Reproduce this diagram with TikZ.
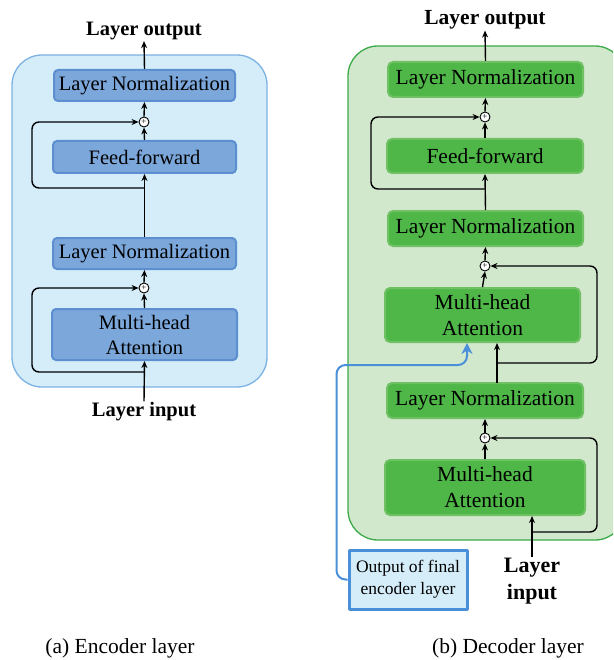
\documentclass[tikz,border=0pt]{standalone}
\usepackage{fontspec}
\setmainfont{Liberation Serif}
\usetikzlibrary{arrows.meta}

\definecolor{encbg}{RGB}{212,237,249}
\definecolor{encline}{RGB}{125,178,227}
\definecolor{encfill}{RGB}{123,167,219}
\definecolor{encdraw}{RGB}{92,142,208}
\definecolor{decbg}{RGB}{210,232,205}
\definecolor{decline}{RGB}{59,170,72}
\definecolor{decfill}{RGB}{78,183,72}
\definecolor{decdraw}{RGB}{112,192,100}
\definecolor{skipblue}{RGB}{74,144,217}

\tikzset{
  encbox/.style={draw=encdraw, line width=2pt, fill=encfill, rounded corners=4pt,
    inner sep=0pt, align=center, font=\fontsize{20.5}{25}\selectfont},
  decbox/.style={draw=decdraw, line width=2pt, fill=decfill, rounded corners=5pt,
    inner sep=0pt, align=center, font=\fontsize{21.5}{26}\selectfont},
  addnode/.style={draw, circle, fill=white, line width=0.9pt, inner sep=0pt,
    minimum size=10pt, font=\fontsize{9}{9}\selectfont},
  title/.style={font=\bfseries\fontsize{20.5}{27}\selectfont, align=center, inner sep=1pt},
  caption/.style={font=\fontsize{21.5}{26}\selectfont, inner sep=0pt},
  flow/.style={->, line width=1.4pt},
  encarrow/.style={-{Stealth[length=11pt,width=11pt]}, line width=2pt, draw=skipblue}
}

\begin{document}
\begin{tikzpicture}[x=1pt, y=-1pt, >={Stealth[length=7pt,width=6pt]}, line join=round]
    \useasboundingbox (0,0) rectangle (613,660);
    \clip (0,0) rectangle (613,660);

    % encoder layer
    \draw[draw=encline, line width=1.3pt, fill=encbg, rounded corners=30pt] (12,55) rectangle (267,387);

    \node[title] (eOut) at (144,31) {Layer output};
    \node[encbox, minimum width=181pt, minimum height=31pt] (eLN2) at (144.5,85.5) {Layer Normalization};
    \node[addnode] (ePlus2) at (144,122) {+};
    \node[encbox, minimum width=183pt, minimum height=32pt] (eFF) at (144.5,157) {Feed-forward};
    \node[encbox, minimum width=183pt, minimum height=31pt] (eLN1) at (144.5,253.5) {Layer Normalization};
    \node[addnode] (ePlus1) at (144,288) {+};
    \node[encbox, minimum width=185pt, minimum height=51pt] (eMHA) at (144.5,334.5) {Multi-head\\Attention};
    \node[title] (eIn) at (144,412) {Layer input};

    \coordinate (eSplit2) at (144,188);
    \coordinate (eSplit1) at (144,372);

    \draw[flow] (eLN2.north) -- (eOut.south);
    \draw[flow] (ePlus2.north) -- (eLN2.south);
    \draw[flow] (eFF.north) -- (ePlus2.south);
    \draw[flow] (eLN1.north) -- (eFF.south);
    \draw[flow, rounded corners=7pt] (eSplit2) -- ++(-112,0) |- (ePlus2.west);
    \draw[flow] (ePlus1.north) -- (eLN1.south);
    \draw[flow] (eMHA.north) -- (ePlus1.south);
    \draw[flow] (eIn.north) -- (eMHA.south);
    \draw[flow, rounded corners=7pt] (eSplit1) -- ++(-112,0) |- (ePlus1.west);

    % decoder layer
    \draw[draw=decline, line width=1.3pt, fill=decbg, rounded corners=30pt] (348,46) rectangle (625,540);

    \node[title, font=\bfseries\fontsize{21.5}{27}\selectfont] (dOut) at (485,20) {Layer output};
    \node[decbox, minimum width=195pt, minimum height=35pt] (dLN3) at (485.5,79.5) {Layer Normalization};
    \node[addnode] (dPlus3) at (485,117) {+};
    \node[decbox, minimum width=196pt, minimum height=34pt] (dFF) at (485,156) {Feed-forward};
    \node[decbox, minimum width=195pt, minimum height=35pt] (dLN2) at (485.5,228.5) {Layer Normalization};
    \node[addnode] (dPlus2) at (485,266) {+};
    \node[decbox, minimum width=195pt, minimum height=54pt] (dMHA2) at (482.5,315) {Multi-head\\Attention};
    \node[decbox, minimum width=196pt, minimum height=35pt] (dLN1) at (485,400.5) {Layer Normalization};
    \node[addnode] (dPlus1) at (485,438) {+};
    \node[decbox, minimum width=200pt, minimum height=55pt] (dMHA1) at (485,487.5) {Multi-head\\Attention};
    \node[title, font=\bfseries\fontsize{22}{27}\selectfont] (dIn) at (532,581) {Layer\\input};
    \node[draw=skipblue, line width=3pt, fill=encbg, minimum width=118pt, minimum height=59pt,
      align=center, inner sep=0pt, font=\fontsize{17.5}{22}\selectfont] (encOut) at (408,579.5) {Output of final\\encoder layer};

    \coordinate (dSplit3) at (485,189);
    \coordinate (dUp) at (497,383);
    \coordinate (dSplit2) at (497,363);
    \coordinate (dSplit1) at (532,532);
    \coordinate (dEnc) at (467,365);

    \draw[flow] (dLN3.north) -- (dOut.south);
    \draw[flow] (dPlus3.north) -- (dLN3.south);
    \draw[flow] (dFF.north) -- (dPlus3.south);
    \draw[flow] (dLN2.north) -- (dFF.south);
    \draw[flow, rounded corners=7pt] (dSplit3) -- ++(-114,0) |- (dPlus3.west);
    \draw[flow] (dPlus2.north) -- (dLN2.south);
    \draw[flow] (dMHA2.north) -- (dPlus2.south);
    \draw[flow] (dUp) -- (dUp |- dMHA2.south);
    \draw[flow, rounded corners=7pt] (dSplit2) -- ++(100,0) |- (dPlus2.east);
    \draw[flow] (dPlus1.north) -- (dLN1.south);
    \draw[flow] (dMHA1.north) -- (dPlus1.south);
    \draw[flow] (dIn.north) -- (dIn.north |- dMHA1.south);
    \draw[flow, rounded corners=7pt] (dSplit1) -- ++(65,0) |- (dPlus1.east);
    \draw[encarrow, rounded corners=9pt] (encOut.west) -- ++(-11,0) |- (dEnc) -- (dEnc |- dMHA2.south);

    % captions
    \node[caption] (capA) at (120,648) {(a) Encoder layer};
    \node[caption] (capB) at (508,648) {(b) Decoder layer};
\end{tikzpicture}
\end{document}
